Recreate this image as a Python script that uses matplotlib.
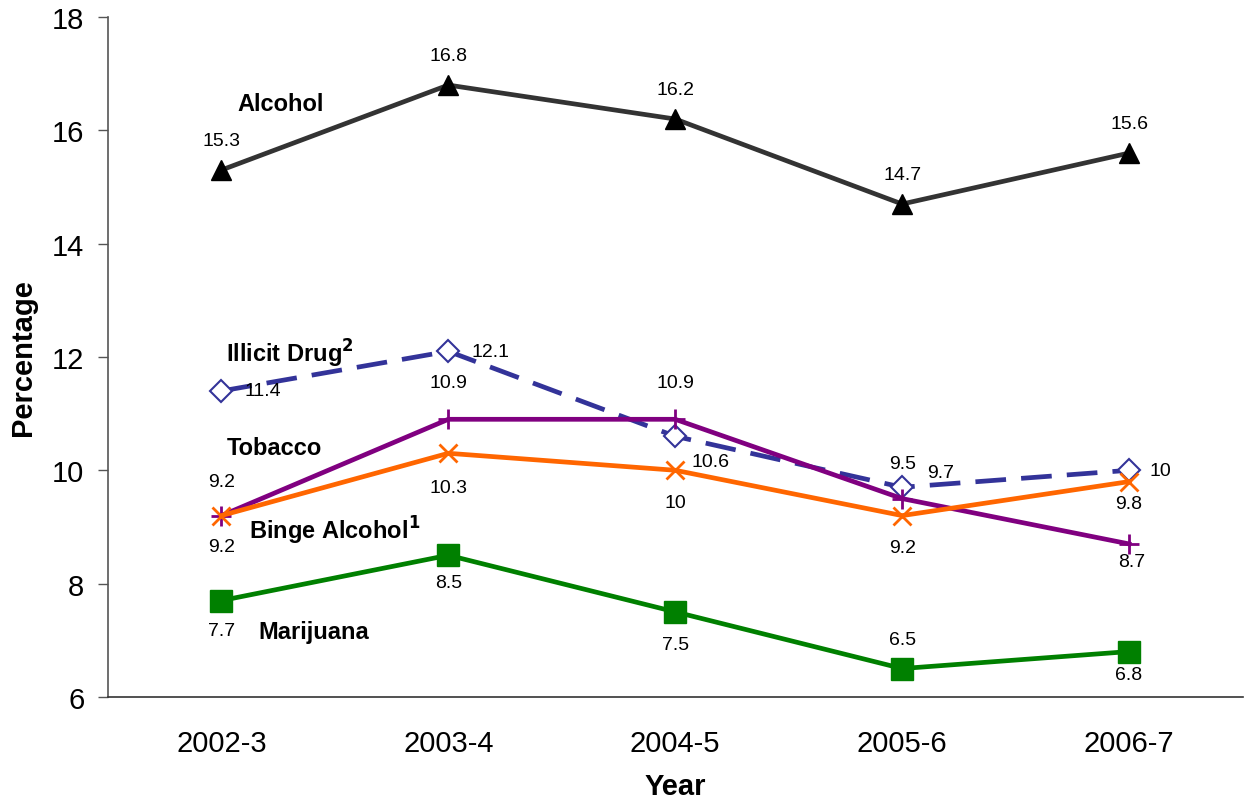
import matplotlib
matplotlib.use("Agg")
import matplotlib.pyplot as plt

plt.rcParams['font.family'] = ['Liberation Sans', 'DejaVu Sans']

years = ["2002-3", "2003-4", "2004-5", "2005-6", "2006-7"]
alcohol = [15.3, 16.8, 16.2, 14.7, 15.6]
illicit = [11.4, 12.1, 10.6, 9.7, 10]
tobacco = [9.2, 10.9, 10.9, 9.5, 8.7]
binge = [9.2, 10.3, 10, 9.2, 9.8]
marijuana = [7.7, 8.5, 7.5, 6.5, 6.8]
yticks = [6, 8, 10, 12, 14, 16, 18]

fig = plt.figure(figsize=(12.44, 8.04), dpi=100)
ax = fig.add_axes([0.0868, 0.132, 0.912, 0.8455])
x = list(range(len(years)))

# (values, color, marker, kwargs, label offsets in px (dx, dy up))
series = [
    (alcohol, "#333333", "^", dict(ms=15, mfc="black", mec="black"),
     [(0, 30)] * 5),
    (illicit, "#333399", "D", dict(ms=11.5, mfc="white", mec="#333399", mew=1.5, ls=(0, (6.5, 3.2))),
     [(41, 0), (42, 0), (35, -25), (38, 15), (31, 0)]),
    (tobacco, "#800080", "+", dict(ms=15, mew=2),
     [(0, 34), (0, 37), (0, 37), (0, 35), (3, -18)]),
    (binge, "#FF6600", "x", dict(ms=13, mew=2),
     [(0, -31), (0, -34), (0, -32), (0, -32), (0, -22)]),
    (marijuana, "#008000", "s", dict(ms=16, mfc="#008000", mec="#008000"),
     [(0, -30), (0, -27), (0, -33), (0, 29), (0, -23)]),
]

for vals, col, mk, kw, offs in series:
    ls = kw.pop("ls", "-")
    ax.plot(x, vals, color=col, lw=3.4, marker=mk, linestyle=ls, **kw, zorder=3)
    for xi, v, (dx, dy) in zip(x, vals, offs):
        ax.annotate(f"{v:g}", (xi, v), xytext=(dx * 0.72, dy * 0.72),
                    textcoords="offset points", ha="center", va="center",
                    fontsize=14, color="black")

# series names
names = [
    (0.07, 16.48, "Alcohol"),
    (0.022, 12.08, "Illicit Drug$^\\mathbf{2}$"),
    (0.022, 10.4, "Tobacco"),
    (0.123, 8.94, "Binge Alcohol$^\\mathbf{1}$"),
    (0.163, 7.15, "Marijuana"),
]
for nx, ny, txt in names:
    ax.text(nx, ny, txt, fontsize=17, fontweight="bold", ha="left", va="center")

ax.set_xlim(-0.5, 4.5)
ax.set_ylim(6, 18)
ax.set_yticks(yticks)
ax.set_xticks(x)
ax.set_xticklabels(years)
ax.tick_params(axis="x", length=0, pad=23, labelsize=21)
ax.tick_params(axis="y", length=7, width=1, color="#555555", labelsize=21, pad=10)
for s in ["top", "right"]:
    ax.spines[s].set_visible(False)
ax.spines["left"].set_color("#555555")
ax.spines["bottom"].set_color("#333333")
ax.spines["left"].set_linewidth(1.2)
ax.spines["bottom"].set_linewidth(1.2)

ax.set_ylabel("Percentage", fontsize=21, fontweight="bold", labelpad=11)
ax.set_xlabel("Year", fontsize=21, fontweight="bold", labelpad=11)

fig.savefig("out.png", dpi=100)
